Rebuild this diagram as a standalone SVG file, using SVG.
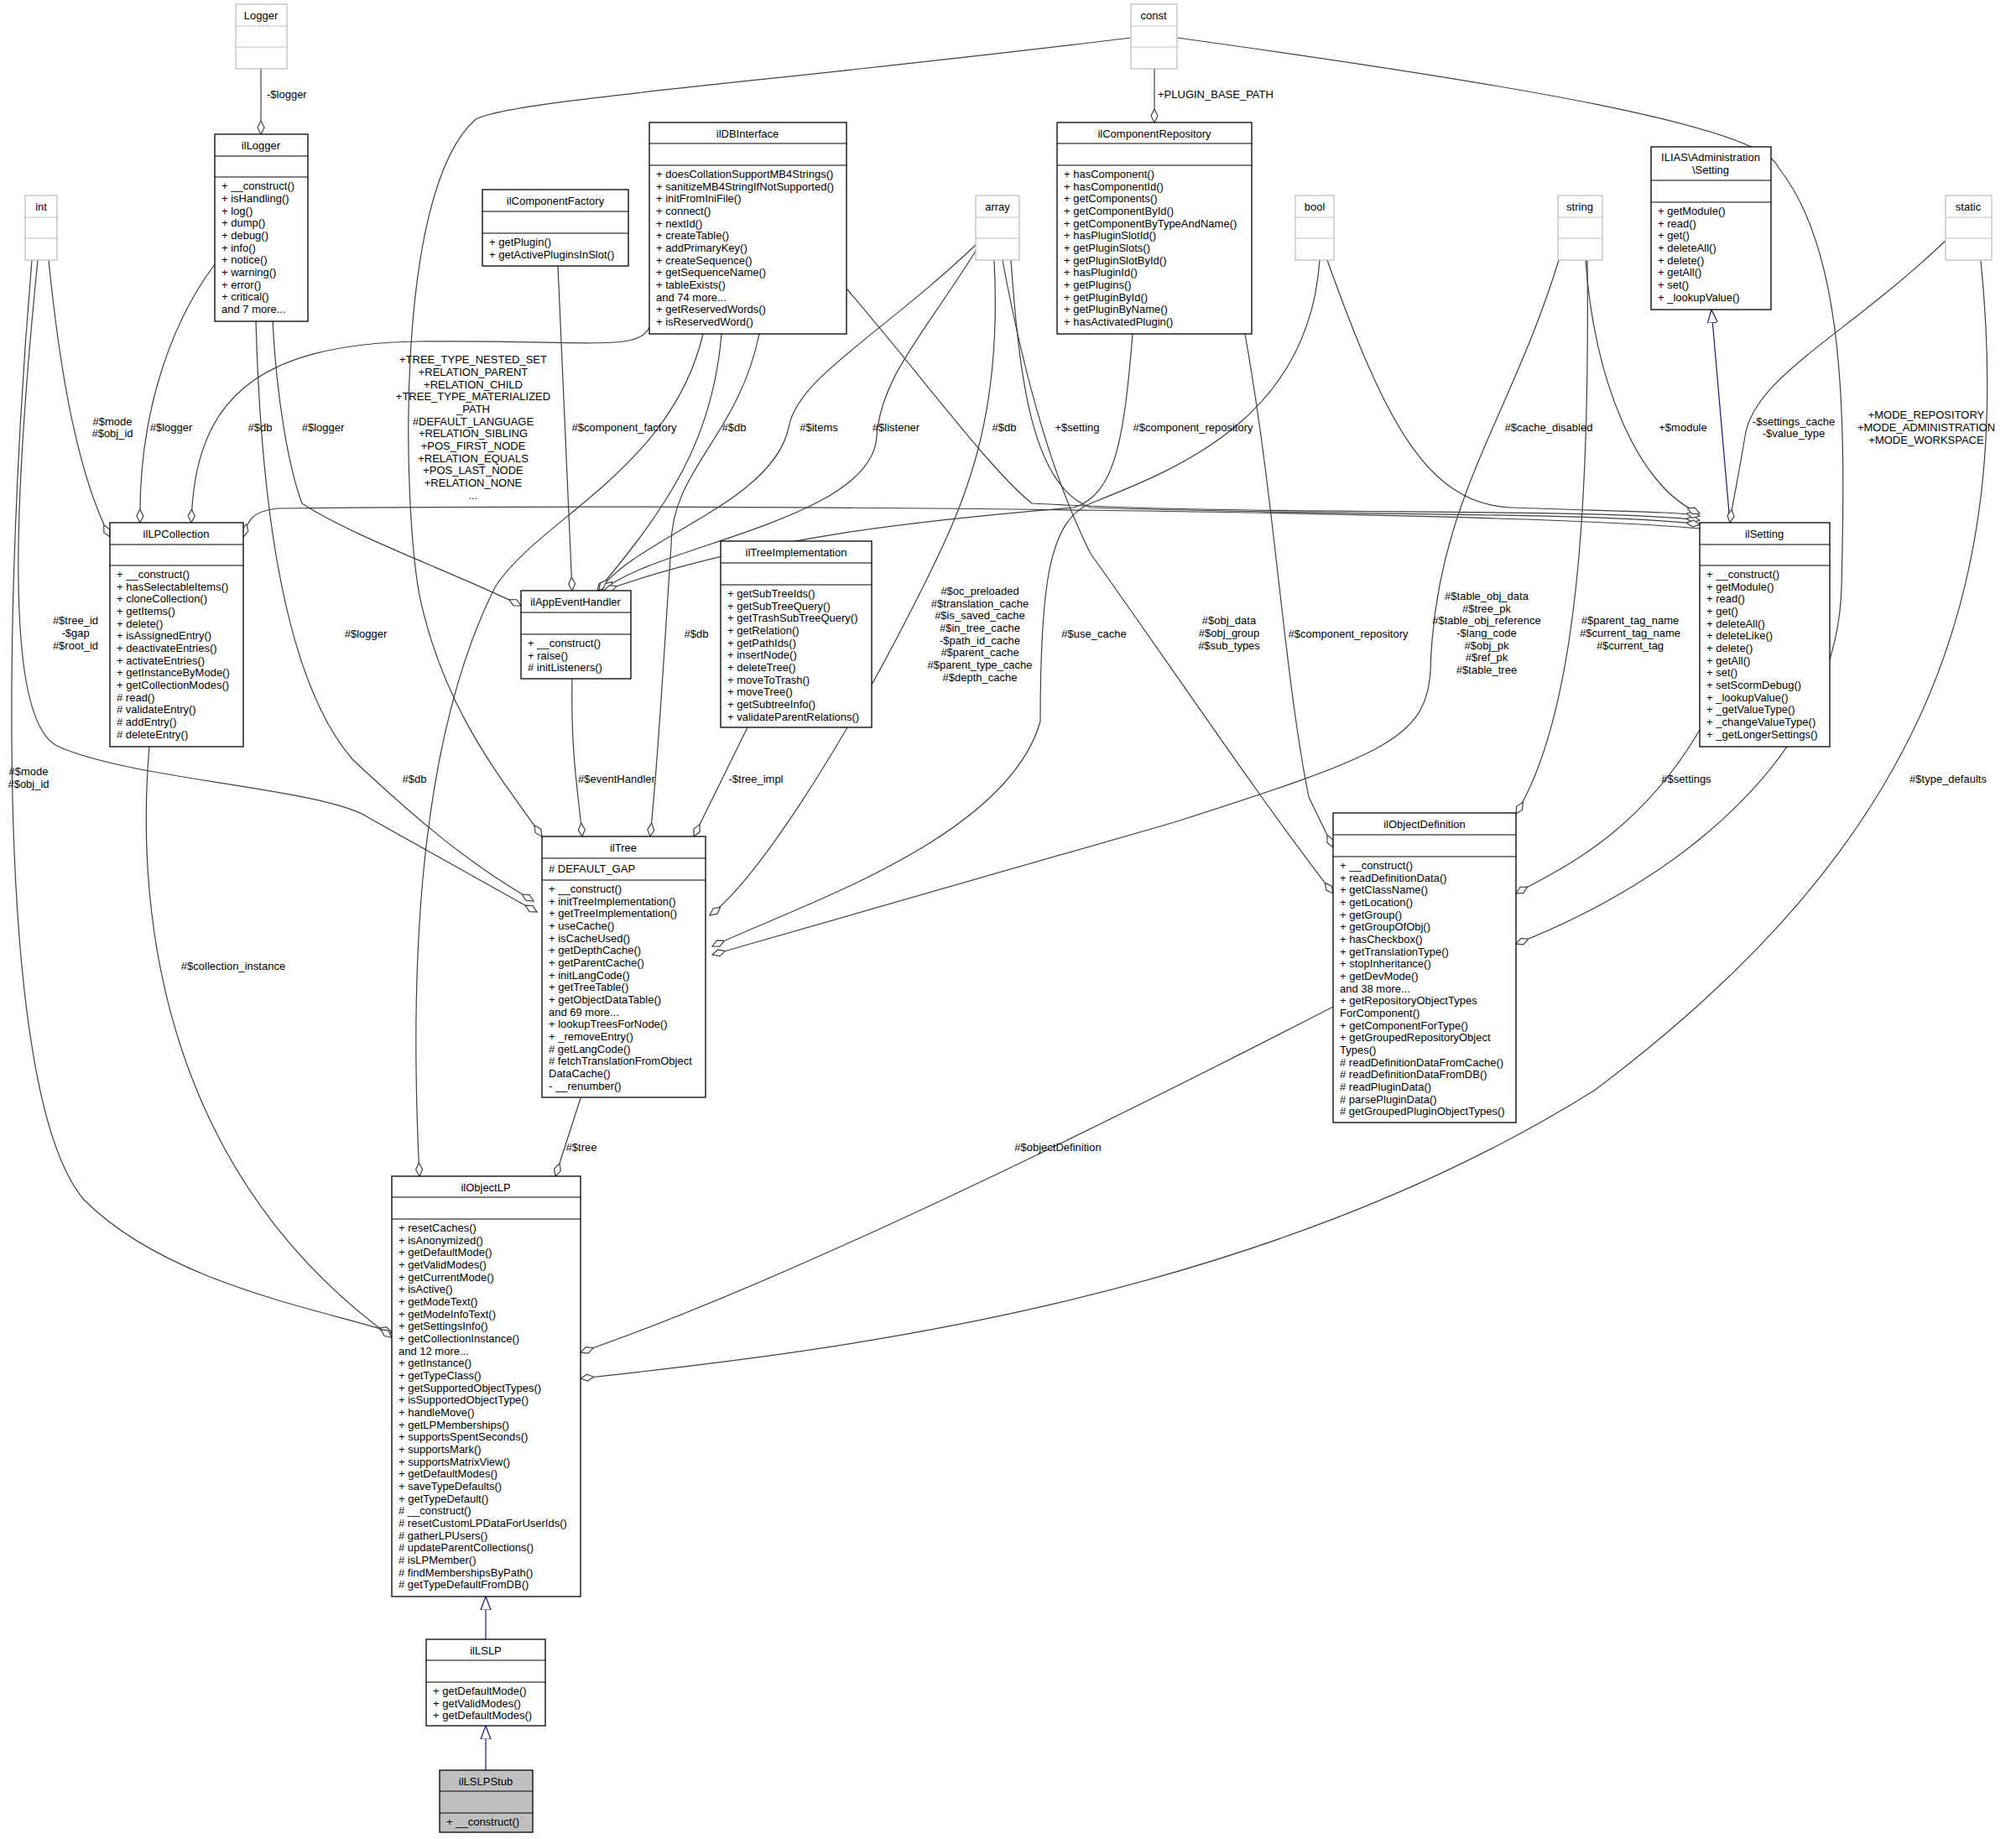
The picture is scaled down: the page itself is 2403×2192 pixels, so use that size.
<svg xmlns="http://www.w3.org/2000/svg" width="2403" height="2192" viewBox="0 0 2403 2192">
<style>
text{font-family:"Liberation Sans",Arial,sans-serif;font-size:13px;fill:#000}
.c{text-anchor:middle}
.b{fill:#fff;stroke:#000;stroke-width:1.3}
.g{fill:#fff;stroke:#bfbfbf;stroke-width:1.3}
.s{fill:#bfbfbf;stroke:#000;stroke-width:1.3}
.e{fill:none;stroke:#404040;stroke-width:1.2;marker-end:url(#dia)}
.i{fill:none;stroke:#191970;stroke-width:1.2;marker-end:url(#tri)}
</style>
<defs>
<marker id="dia" markerUnits="userSpaceOnUse" markerWidth="18" markerHeight="10" refX="16" refY="5" orient="auto" viewBox="0 0 18 10"><path d="M0,5 L8,1 L16,5 L8,9 z" fill="#fff" stroke="#404040" stroke-width="1.2"/></marker>
<marker id="tri" markerUnits="userSpaceOnUse" markerWidth="18" markerHeight="14" refX="16" refY="7" orient="auto" viewBox="0 0 18 14"><path d="M0,1 L16,7 L0,13 z" fill="#fff" stroke="#191970" stroke-width="1.2"/></marker>
</defs>
<g id="connectors">
<path class="e" d="M311,82 L311,160"/>
<path class="e" d="M58,310 C70,430 90,560 131,640"/>
<path class="e" d="M45,310 C20,560 0,860 70,890 C160,930 390,940 440,975 L640,1087"/>
<path class="e" d="M38,310 C5,700 -10,1300 100,1430 C200,1530 380,1560 467,1588"/>
<path class="e" d="M256,315 C200,390 165,500 167,623"/>
<path class="e" d="M774,390 C760,420 700,405 500,407 C300,410 232,480 228,623"/>
<path class="e" d="M325,383 C330,480 345,560 360,600 C420,640 560,690 621,722"/>
<path class="e" d="M305,383 C310,560 330,800 420,905 C500,980 560,1030 636,1074"/>
<path class="e" d="M1348,45 C900,100 600,120 566,143 C470,230 480,600 500,710 C530,850 600,930 646,997"/>
<path class="e" d="M665,317 L682,704"/>
<path class="e" d="M860,398 C850,520 800,600 712,704"/>
<path class="e" d="M1165,290 C1050,400 950,450 940,510 C920,600 760,640 714,704"/>
<path class="e" d="M1165,296 C1100,400 1050,450 1045,520 C1040,620 780,650 718,704"/>
<path class="e" d="M905,398 C880,520 800,560 800,650 C790,800 785,900 775,997"/>
<path class="e" d="M838,398 C800,560 640,620 590,700 C490,900 490,1200 500,1402"/>
<path class="e" d="M1185,310 C1195,500 1150,600 1100,700 C1000,900 900,1050 846,1091"/>
<path class="e" d="M891,867 L827,997"/>
<path class="e" d="M682,809 C680,900 690,950 694,997"/>
<path class="e" d="M692,1309 L662,1402"/>
<path class="e" d="M178,890 C160,1100 200,1400 467,1594"/>
<path class="e" d="M1009,344 C1100,450 1180,560 1230,600 C1500,615 1900,605 2026,620"/>
<path class="e" d="M1205,310 C1215,450 1230,580 1300,605 C1600,615 1900,610 2026,625"/>
<path class="e" d="M2026,630 C1800,610 900,600 330,606 C300,610 295,620 290,640"/>
<path class="e" d="M1350,398 C1340,520 1330,590 1280,605 C1100,620 900,640 720,704"/>
<path class="e" d="M1484,398 C1520,600 1530,800 1560,950 L1589,1010"/>
<path class="e" d="M1582,310 C1650,500 1700,600 1800,605 C1950,610 2000,610 2026,615"/>
<path class="e" d="M1573,310 C1560,500 1400,560 1300,600 C1250,620 1240,700 1240,860 C1200,1000 950,1080 849,1128"/>
<path class="e" d="M1890,310 C1900,450 1950,580 2026,612"/>
<path class="e" d="M1858,310 C1800,500 1710,600 1705,800 C1700,880 1650,900 1400,980 L849,1138"/>
<path class="e" d="M1892,310 C1895,600 1880,850 1807,970"/>
<path class="e" d="M1195,310 C1230,500 1270,600 1300,660 C1400,800 1500,950 1589,1065"/>
<path class="i" d="M2062,623 L2040,369"/>
<path class="e" d="M2319,287 C2200,400 2090,450 2080,520 C2070,580 2065,600 2062,623"/>
<path class="e" d="M1403,45 C1800,100 2100,150 2120,200 C2200,300 2200,500 2195,700 C2190,900 2000,1050 1807,1125"/>
<path class="e" d="M1376,82 L1376,146"/>
<path class="e" d="M2026,870 C1950,1000 1850,1040 1807,1065"/>
<path class="e" d="M2361,310 C2400,700 2300,1000 1900,1300 C1500,1550 1000,1610 692,1643"/>
<path class="e" d="M1589,1200 C1200,1400 900,1540 692,1612"/>
<path class="i" d="M579,1954 L579,1903"/>
<path class="i" d="M579,2110 L579,2057"/>
<text x="318" y="117">-$logger</text>
<text class="c" x="134" y="507">#$mode</text><text class="c" x="134" y="521">#$obj_id</text>
<text class="c" x="90" y="744">#$tree_id</text><text class="c" x="90" y="759">-$gap</text><text class="c" x="90" y="774">#$root_id</text>
<text class="c" x="34" y="924">#$mode</text><text class="c" x="34" y="939">#$obj_id</text>
<text class="c" x="204" y="514">#$logger</text>
<text class="c" x="310" y="514">#$db</text>
<text class="c" x="385" y="514">#$logger</text>
<text class="c" x="436" y="760">#$logger</text>
<text class="c" x="494" y="933">#$db</text>
<g class="c"><text class="c" x="564" y="433">+TREE_TYPE_NESTED_SET</text><text class="c" x="564" y="448">+RELATION_PARENT</text><text class="c" x="564" y="463">+RELATION_CHILD</text><text class="c" x="564" y="477">+TREE_TYPE_MATERIALIZED</text><text class="c" x="564" y="492">_PATH</text><text class="c" x="564" y="507">#DEFAULT_LANGUAGE</text><text class="c" x="564" y="521">+RELATION_SIBLING</text><text class="c" x="564" y="536">+POS_FIRST_NODE</text><text class="c" x="564" y="551">+RELATION_EQUALS</text><text class="c" x="564" y="565">+POS_LAST_NODE</text><text class="c" x="564" y="580">+RELATION_NONE</text><text class="c" x="564" y="595">...</text></g>
<text class="c" x="744" y="514">#$component_factory</text>
<text class="c" x="875" y="514">#$db</text>
<text class="c" x="976" y="514">#$items</text>
<text class="c" x="1068" y="514">#$listener</text>
<text class="c" x="1197" y="514">#$db</text>
<text class="c" x="1284" y="514">+$setting</text>
<text class="c" x="1422" y="514">#$component_repository</text>
<text class="c" x="1846" y="514">#$cache_disabled</text>
<text class="c" x="2006" y="514">+$module</text>
<text class="c" x="2138" y="507">-$settings_cache</text><text class="c" x="2138" y="521">-$value_type</text>
<text class="c" x="2296" y="499">+MODE_REPOSITORY</text><text class="c" x="2296" y="514">+MODE_ADMINISTRATION</text><text class="c" x="2296" y="529">+MODE_WORKSPACE</text>
<text x="1380" y="117">+PLUGIN_BASE_PATH</text>
<text class="c" x="1168" y="709">#$oc_preloaded</text><text class="c" x="1168" y="724">#$translation_cache</text><text class="c" x="1168" y="738">#$is_saved_cache</text><text class="c" x="1168" y="753">#$in_tree_cache</text><text class="c" x="1168" y="768">-$path_id_cache</text><text class="c" x="1168" y="782">#$parent_cache</text><text class="c" x="1168" y="797">#$parent_type_cache</text><text class="c" x="1168" y="812">#$depth_cache</text>
<text class="c" x="830" y="760">#$db</text>
<text class="c" x="1304" y="760">#$use_cache</text>
<text class="c" x="1465" y="744">#$obj_data</text><text class="c" x="1465" y="759">#$obj_group</text><text class="c" x="1465" y="774">#$sub_types</text>
<text class="c" x="1607" y="760">#$component_repository</text>
<text class="c" x="1772" y="715">#$table_obj_data</text><text class="c" x="1772" y="730">#$tree_pk</text><text class="c" x="1772" y="744">#$table_obj_reference</text><text class="c" x="1772" y="759">-$lang_code</text><text class="c" x="1772" y="774">#$obj_pk</text><text class="c" x="1772" y="788">#$ref_pk</text><text class="c" x="1772" y="803">#$table_tree</text>
<text class="c" x="1943" y="744">#$parent_tag_name</text><text class="c" x="1943" y="759">#$current_tag_name</text><text class="c" x="1943" y="774">#$current_tag</text>
<text class="c" x="735" y="933">#$eventHandler</text>
<text class="c" x="901" y="933">-$tree_impl</text>
<text class="c" x="2010" y="933">#$settings</text>
<text class="c" x="2322" y="933">#$type_defaults</text>
<text class="c" x="278" y="1156">#$collection_instance</text>
<text class="c" x="693" y="1372">#$tree</text>
<text class="c" x="1261" y="1372">#$objectDefinition</text>
</g>
<g id="Logger"><rect class="g" x="281" y="5" width="61" height="77"/><line x1="281" y1="31" x2="342" y2="31" stroke="#bfbfbf"/><line x1="281" y1="56" x2="342" y2="56" stroke="#bfbfbf"/><text class="c" x="311" y="23">Logger</text></g>
<g id="int"><rect class="g" x="30" y="233" width="38" height="77"/><line x1="30" y1="259" x2="68" y2="259" stroke="#bfbfbf"/><line x1="30" y1="284" x2="68" y2="284" stroke="#bfbfbf"/><text class="c" x="49" y="251">int</text></g>
<g id="array"><rect class="g" x="1163" y="233" width="52" height="77"/><line x1="1163" y1="259" x2="1215" y2="259" stroke="#bfbfbf"/><line x1="1163" y1="284" x2="1215" y2="284" stroke="#bfbfbf"/><text class="c" x="1189" y="251">array</text></g>
<g id="const"><rect class="g" x="1348" y="5" width="55" height="77"/><line x1="1348" y1="31" x2="1403" y2="31" stroke="#bfbfbf"/><line x1="1348" y1="56" x2="1403" y2="56" stroke="#bfbfbf"/><text class="c" x="1375" y="23">const</text></g>
<g id="bool"><rect class="g" x="1544" y="233" width="46" height="77"/><line x1="1544" y1="259" x2="1590" y2="259" stroke="#bfbfbf"/><line x1="1544" y1="284" x2="1590" y2="284" stroke="#bfbfbf"/><text class="c" x="1567" y="251">bool</text></g>
<g id="string"><rect class="g" x="1857" y="233" width="53" height="77"/><line x1="1857" y1="259" x2="1910" y2="259" stroke="#bfbfbf"/><line x1="1857" y1="284" x2="1910" y2="284" stroke="#bfbfbf"/><text class="c" x="1883" y="251">string</text></g>
<g id="static"><rect class="g" x="2319" y="233" width="55" height="77"/><line x1="2319" y1="259" x2="2374" y2="259" stroke="#bfbfbf"/><line x1="2319" y1="284" x2="2374" y2="284" stroke="#bfbfbf"/><text class="c" x="2346" y="251">static</text></g>
<g id="ilLogger"><rect class="b" x="256" y="160" width="111" height="223"/><line x1="256" y1="186" x2="367" y2="186" stroke="#000"/><line x1="256" y1="211" x2="367" y2="211" stroke="#000"/><text class="c" x="311" y="178">ilLogger</text>
<text x="264" y="226">+ __construct()</text><text x="264" y="241">+ isHandling()</text><text x="264" y="256">+ log()</text><text x="264" y="270">+ dump()</text><text x="264" y="285">+ debug()</text><text x="264" y="300">+ info()</text><text x="264" y="314">+ notice()</text><text x="264" y="329">+ warning()</text><text x="264" y="344">+ error()</text><text x="264" y="358">+ critical()</text><text x="264" y="373">and 7 more...</text></g>
<g id="ilComponentFactory"><rect class="b" x="575" y="226" width="174" height="91"/><line x1="575" y1="252" x2="749" y2="252" stroke="#000"/><line x1="575" y1="278" x2="749" y2="278" stroke="#000"/><text class="c" x="662" y="244">ilComponentFactory</text>
<text x="583" y="293">+ getPlugin()</text><text x="583" y="308">+ getActivePluginsInSlot()</text></g>
<g id="ilDBInterface"><rect class="b" x="774" y="146" width="235" height="252"/><line x1="774" y1="171" x2="1009" y2="171" stroke="#000"/><line x1="774" y1="197" x2="1009" y2="197" stroke="#000"/><text class="c" x="891" y="164">ilDBInterface</text>
<text x="782" y="212">+ doesCollationSupportMB4Strings()</text><text x="782" y="227">+ sanitizeMB4StringIfNotSupported()</text><text x="782" y="241">+ initFromIniFile()</text><text x="782" y="256">+ connect()</text><text x="782" y="271">+ nextId()</text><text x="782" y="285">+ createTable()</text><text x="782" y="300">+ addPrimaryKey()</text><text x="782" y="315">+ createSequence()</text><text x="782" y="329">+ getSequenceName()</text><text x="782" y="344">+ tableExists()</text><text x="782" y="359">and 74 more...</text><text x="782" y="373">+ getReservedWords()</text><text x="782" y="388">+ isReservedWord()</text></g>
<g id="ilComponentRepository"><rect class="b" x="1260" y="146" width="232" height="252"/><line x1="1260" y1="171" x2="1492" y2="171" stroke="#000"/><line x1="1260" y1="197" x2="1492" y2="197" stroke="#000"/><text class="c" x="1376" y="164">ilComponentRepository</text>
<text x="1268" y="212">+ hasComponent()</text><text x="1268" y="227">+ hasComponentId()</text><text x="1268" y="241">+ getComponents()</text><text x="1268" y="256">+ getComponentById()</text><text x="1268" y="271">+ getComponentByTypeAndName()</text><text x="1268" y="285">+ hasPluginSlotId()</text><text x="1268" y="300">+ getPluginSlots()</text><text x="1268" y="315">+ getPluginSlotById()</text><text x="1268" y="329">+ hasPluginId()</text><text x="1268" y="344">+ getPlugins()</text><text x="1268" y="359">+ getPluginById()</text><text x="1268" y="373">+ getPluginByName()</text><text x="1268" y="388">+ hasActivatedPlugin()</text></g>
<g id="ILIASSetting"><rect class="b" x="1968" y="175" width="143" height="194"/><line x1="1968" y1="215" x2="2111" y2="215" stroke="#000"/><line x1="1968" y1="241" x2="2111" y2="241" stroke="#000"/><text class="c" x="2039" y="192">ILIAS\Administration</text><text class="c" x="2039" y="207">\Setting</text>
<text x="1976" y="256">+ getModule()</text><text x="1976" y="271">+ read()</text><text x="1976" y="285">+ get()</text><text x="1976" y="300">+ deleteAll()</text><text x="1976" y="315">+ delete()</text><text x="1976" y="329">+ getAll()</text><text x="1976" y="344">+ set()</text><text x="1976" y="359">+ _lookupValue()</text></g>
<g id="ilLPCollection"><rect class="b" x="131" y="623" width="159" height="267"/><line x1="131" y1="649" x2="290" y2="649" stroke="#000"/><line x1="131" y1="674" x2="290" y2="674" stroke="#000"/><text class="c" x="210" y="641">ilLPCollection</text>
<text x="139" y="689">+ __construct()</text><text x="139" y="704">+ hasSelectableItems()</text><text x="139" y="718">+ cloneCollection()</text><text x="139" y="733">+ getItems()</text><text x="139" y="748">+ delete()</text><text x="139" y="762">+ isAssignedEntry()</text><text x="139" y="777">+ deactivateEntries()</text><text x="139" y="792">+ activateEntries()</text><text x="139" y="806">+ getInstanceByMode()</text><text x="139" y="821">+ getCollectionModes()</text><text x="139" y="836"># read()</text><text x="139" y="850"># validateEntry()</text><text x="139" y="865"># addEntry()</text><text x="139" y="880"># deleteEntry()</text></g>
<g id="ilAppEventHandler"><rect class="b" x="621" y="704" width="131" height="105"/><line x1="621" y1="730" x2="752" y2="730" stroke="#000"/><line x1="621" y1="756" x2="752" y2="756" stroke="#000"/><text class="c" x="686" y="722">ilAppEventHandler</text>
<text x="629" y="771">+ __construct()</text><text x="629" y="786">+ raise()</text><text x="629" y="800"># initListeners()</text></g>
<g id="ilTreeImplementation"><rect class="b" x="859" y="645" width="180" height="222"/><line x1="859" y1="671" x2="1039" y2="671" stroke="#000"/><line x1="859" y1="697" x2="1039" y2="697" stroke="#000"/><text class="c" x="949" y="663">ilTreeImplementation</text>
<text x="867" y="712">+ getSubTreeIds()</text><text x="867" y="727">+ getSubTreeQuery()</text><text x="867" y="741">+ getTrashSubTreeQuery()</text><text x="867" y="756">+ getRelation()</text><text x="867" y="771">+ getPathIds()</text><text x="867" y="785">+ insertNode()</text><text x="867" y="800">+ deleteTree()</text><text x="867" y="815">+ moveToTrash()</text><text x="867" y="829">+ moveTree()</text><text x="867" y="844">+ getSubtreeInfo()</text><text x="867" y="859">+ validateParentRelations()</text></g>
<g id="ilSetting"><rect class="b" x="2026" y="623" width="155" height="267"/><line x1="2026" y1="649" x2="2181" y2="649" stroke="#000"/><line x1="2026" y1="674" x2="2181" y2="674" stroke="#000"/><text class="c" x="2103" y="641">ilSetting</text>
<text x="2034" y="689">+ __construct()</text><text x="2034" y="704">+ getModule()</text><text x="2034" y="718">+ read()</text><text x="2034" y="733">+ get()</text><text x="2034" y="748">+ deleteAll()</text><text x="2034" y="762">+ deleteLike()</text><text x="2034" y="777">+ delete()</text><text x="2034" y="792">+ getAll()</text><text x="2034" y="806">+ set()</text><text x="2034" y="821">+ setScormDebug()</text><text x="2034" y="836">+ _lookupValue()</text><text x="2034" y="850">+ _getValueType()</text><text x="2034" y="865">+ _changeValueType()</text><text x="2034" y="880">+ _getLongerSettings()</text></g>
<g id="ilTree"><rect class="b" x="646" y="997" width="195" height="311"/><line x1="646" y1="1023" x2="841" y2="1023" stroke="#000"/><line x1="646" y1="1049" x2="841" y2="1049" stroke="#000"/><text class="c" x="743" y="1015">ilTree</text><text x="654" y="1040"># DEFAULT_GAP</text>
<text x="654" y="1064">+ __construct()</text><text x="654" y="1079">+ initTreeImplementation()</text><text x="654" y="1093">+ getTreeImplementation()</text><text x="654" y="1108">+ useCache()</text><text x="654" y="1123">+ isCacheUsed()</text><text x="654" y="1137">+ getDepthCache()</text><text x="654" y="1152">+ getParentCache()</text><text x="654" y="1167">+ initLangCode()</text><text x="654" y="1181">+ getTreeTable()</text><text x="654" y="1196">+ getObjectDataTable()</text><text x="654" y="1211">and 69 more...</text><text x="654" y="1225">+ lookupTreesForNode()</text><text x="654" y="1240">+ _removeEntry()</text><text x="654" y="1255"># getLangCode()</text><text x="654" y="1269"># fetchTranslationFromObject</text><text x="654" y="1284">DataCache()</text><text x="654" y="1299">- __renumber()</text></g>
<g id="ilObjectDefinition"><rect class="b" x="1589" y="969" width="218" height="369"/><line x1="1589" y1="995" x2="1807" y2="995" stroke="#000"/><line x1="1589" y1="1021" x2="1807" y2="1021" stroke="#000"/><text class="c" x="1698" y="987">ilObjectDefinition</text>
<text x="1597" y="1036">+ __construct()</text><text x="1597" y="1051">+ readDefinitionData()</text><text x="1597" y="1065">+ getClassName()</text><text x="1597" y="1080">+ getLocation()</text><text x="1597" y="1095">+ getGroup()</text><text x="1597" y="1109">+ getGroupOfObj()</text><text x="1597" y="1124">+ hasCheckbox()</text><text x="1597" y="1139">+ getTranslationType()</text><text x="1597" y="1153">+ stopInheritance()</text><text x="1597" y="1168">+ getDevMode()</text><text x="1597" y="1183">and 38 more...</text><text x="1597" y="1197">+ getRepositoryObjectTypes</text><text x="1597" y="1212">ForComponent()</text><text x="1597" y="1227">+ getComponentForType()</text><text x="1597" y="1241">+ getGroupedRepositoryObject</text><text x="1597" y="1256">Types()</text><text x="1597" y="1271"># readDefinitionDataFromCache()</text><text x="1597" y="1285"># readDefinitionDataFromDB()</text><text x="1597" y="1300"># readPluginData()</text><text x="1597" y="1315"># parsePluginData()</text><text x="1597" y="1329"># getGroupedPluginObjectTypes()</text></g>
<g id="ilObjectLP"><rect class="b" x="467" y="1402" width="225" height="501"/><line x1="467" y1="1427" x2="692" y2="1427" stroke="#000"/><line x1="467" y1="1453" x2="692" y2="1453" stroke="#000"/><text class="c" x="579" y="1420">ilObjectLP</text>
<text x="475" y="1468">+ resetCaches()</text><text x="475" y="1483">+ isAnonymized()</text><text x="475" y="1497">+ getDefaultMode()</text><text x="475" y="1512">+ getValidModes()</text><text x="475" y="1527">+ getCurrentMode()</text><text x="475" y="1541">+ isActive()</text><text x="475" y="1556">+ getModeText()</text><text x="475" y="1571">+ getModeInfoText()</text><text x="475" y="1585">+ getSettingsInfo()</text><text x="475" y="1600">+ getCollectionInstance()</text><text x="475" y="1615">and 12 more...</text><text x="475" y="1629">+ getInstance()</text><text x="475" y="1644">+ getTypeClass()</text><text x="475" y="1659">+ getSupportedObjectTypes()</text><text x="475" y="1673">+ isSupportedObjectType()</text><text x="475" y="1688">+ handleMove()</text><text x="475" y="1703">+ getLPMemberships()</text><text x="475" y="1717">+ supportsSpentSeconds()</text><text x="475" y="1732">+ supportsMark()</text><text x="475" y="1747">+ supportsMatrixView()</text><text x="475" y="1761">+ getDefaultModes()</text><text x="475" y="1776">+ saveTypeDefaults()</text><text x="475" y="1791">+ getTypeDefault()</text><text x="475" y="1805"># __construct()</text><text x="475" y="1820"># resetCustomLPDataForUserIds()</text><text x="475" y="1835"># gatherLPUsers()</text><text x="475" y="1849"># updateParentCollections()</text><text x="475" y="1864"># isLPMember()</text><text x="475" y="1879"># findMembershipsByPath()</text><text x="475" y="1893"># getTypeDefaultFromDB()</text></g>
<g id="ilLSLP"><rect class="b" x="508" y="1954" width="142" height="103"/><line x1="508" y1="1979" x2="650" y2="1979" stroke="#000"/><line x1="508" y1="2005" x2="650" y2="2005" stroke="#000"/><text class="c" x="579" y="1972">ilLSLP</text>
<text x="516" y="2020">+ getDefaultMode()</text><text x="516" y="2035">+ getValidModes()</text><text x="516" y="2049">+ getDefaultModes()</text></g>
<g id="ilLSLPStub"><rect class="s" x="524" y="2110" width="111" height="74"/><line x1="524" y1="2135" x2="635" y2="2135" stroke="#000"/><line x1="524" y1="2161" x2="635" y2="2161" stroke="#000"/><text class="c" x="579" y="2128">ilLSLPStub</text><text x="532" y="2176">+ __construct()</text></g>
</svg>
